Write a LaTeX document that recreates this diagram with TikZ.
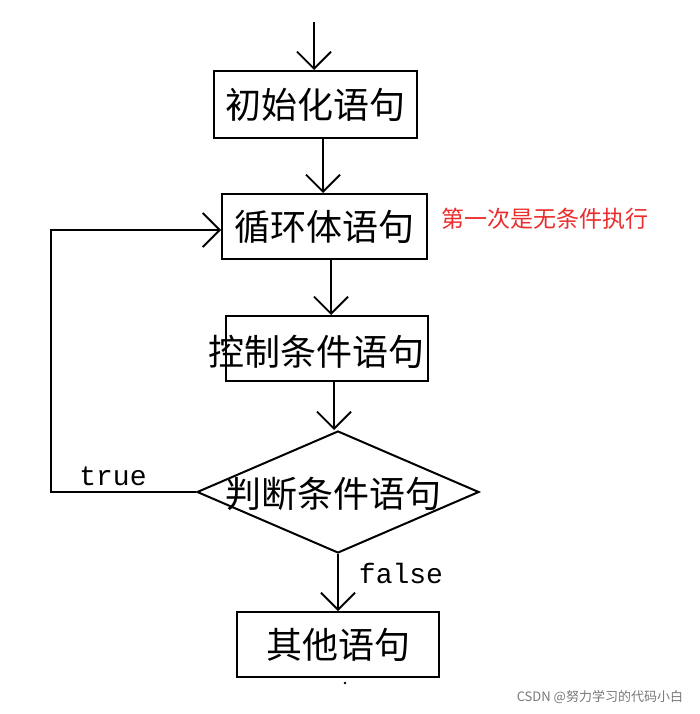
\documentclass[tikz,border=0pt]{standalone}
\usepackage{fontspec}
\newfontfamily\cjk{Noto Sans CJK SC}
\setmonofont{Liberation Mono}
\usetikzlibrary{arrows.meta,shapes.geometric}
\begin{document}
\begin{tikzpicture}[x=1pt,y=-1pt,
  line width=2pt,
  box/.style={draw,rectangle,inner sep=0pt,font=\cjk\fontsize{36}{38}\selectfont},
  lbl/.style={inner sep=0pt,font=\cjk\fontsize{36}{38}\selectfont},
  arr/.style={-{Straight Barb[length=17pt,width=34pt,line width=1.8pt]}},
  mono/.style={inner sep=0pt,font=\ttfamily\fontsize{28}{30}\selectfont}]
\useasboundingbox (0,0) rectangle (699,714);
\node[box,minimum width=203pt,minimum height=67pt] (b1) at (315.5,104.5) {初始化语句};
\node[box,minimum width=205pt,minimum height=65pt] (b2) at (324.5,226.5) {循环体语句};
\node[draw,rectangle,minimum width=202pt,minimum height=65pt] (b3) at (327,348.5) {};
\node[lbl] (t3) at (316.5,352) {控制条件语句};
\node[draw,diamond,minimum width=282pt,minimum height=122pt,inner sep=0pt] (d) at (338,492) {};
\node[lbl] (td) at (333,494) {判断条件语句};
\node[box,minimum width=202pt,minimum height=65pt] (b4) at (338,644.5) {其他语句};
\coordinate (top) at (314,22);
\coordinate (lb) at (51,492);
\coordinate (lt) at (51,230);
\draw[arr] (top) -- (b1.north -| top);
\draw[arr] (b1.south -| 323,0) -- (b2.north -| 323,0);
\draw[arr] (b2.south -| 331,0) -- (b3.north -| 331,0);
\draw[arr] (b3.south -| 334,0) -- (d.north -| 334,0);
\draw[arr] (d.south) -- (b4.north -| d.south);
\draw[arr] (d.west) -- (lb) -- (lt) -- (b2.west |- lt);
\node[mono] (tr) at (113,476) {true};
\node[mono] (fa) at (401,573) {false};
\fill (345,683) circle (1.3pt);
\node[inner sep=0pt,anchor=west,text={rgb,255:red,235;green,45;blue,45},font=\cjk\fontsize{23}{25}\selectfont] (note) at (440,219) {第一次是无条件执行};
\node[inner sep=0pt,anchor=east,text={rgb,255:red,120;green,120;blue,120},font=\cjk\fontsize{13}{15}\selectfont] (wm) at (684,697) {CSDN @努力学习的代码小白};
\end{tikzpicture}
\end{document}
